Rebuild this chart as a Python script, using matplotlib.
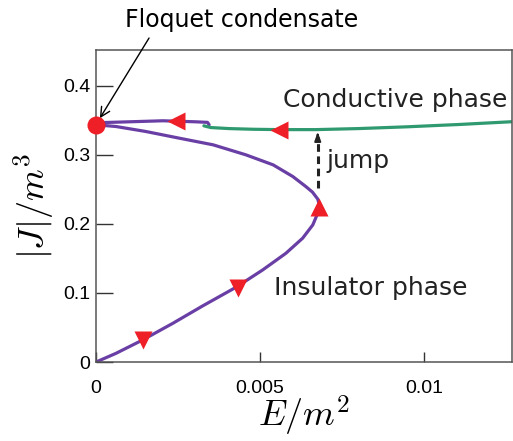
import numpy as np
import matplotlib
matplotlib.use("Agg")
import matplotlib.pyplot as plt

plt.rcParams['mathtext.fontset'] = 'cm'

# insulator branch: from origin to the turning point and back to the condensate
E_ins = [0, 0.00061, 0.00142, 0.00234, 0.00325, 0.00427, 0.00508, 0.00579, 0.0063,
         0.00661, 0.00676, 0.00682, 0.00676, 0.0066, 0.0064, 0.006, 0.0054,
         0.00457, 0.00357, 0.00253, 0.00152, 0.00061, 0]
J_ins = [0, 0.0126, 0.0319, 0.056, 0.0812, 0.1083, 0.1333, 0.1575, 0.1793,
         0.1986, 0.2155, 0.226, 0.236, 0.246, 0.254, 0.2686, 0.2855,
         0.300, 0.3145, 0.3242, 0.3338, 0.341, 0.3435]

# short upper purple piece
E_up = [0, 0.001, 0.00204, 0.00305, 0.0034, 0.00345]
J_up = [0.3464, 0.3478, 0.3493, 0.3478, 0.347, 0.3435]

# conductive branch
E_cond = [0.00329, 0.0035, 0.00405, 0.0048, 0.00558, 0.0067, 0.008, 0.0095, 0.0111, 0.0127]
J_cond = [0.342, 0.3395, 0.338, 0.337, 0.3365, 0.3365, 0.338, 0.3406, 0.344, 0.348]

# direction arrows along the curves
arr_down = ([0.00142, 0.00432], [0.032, 0.107])
arr_up = ([0.00679], [0.225])
arr_left = ([0.00244, 0.00557], [0.3495, 0.3365])

condensate = (0, 0.3435)
jump_E = 0.00676
jump_J = (0.2517, 0.3372)

purple = '#6a3fa5'
green = '#2f9a6f'
red = '#ee1f26'

fig = plt.figure(figsize=(5.13, 4.41), dpi=100)
ax = fig.add_axes([0.187, 0.179, 0.811, 0.708])

line_kw = dict(lw=2.3, solid_capstyle='round', solid_joinstyle='round', zorder=2)
ax.plot(E_ins, J_ins, color=purple, **line_kw)
ax.plot(E_up, J_up, color=purple, **line_kw)
ax.plot(E_cond, J_cond, color=green, **line_kw)

ax.plot(*arr_down, 'v', color=red, ms=13, mec='none', zorder=3)
ax.plot(*arr_up, '^', color=red, ms=13, mec='none', zorder=3)
ax.plot(*arr_left, '<', color=red, ms=13, mec='none', zorder=3)
ax.plot(*condensate, 'o', color=red, ms=13, mec='none', zorder=4, clip_on=False)

# jump arrow
ax.plot([jump_E, jump_E], [jump_J[0], jump_J[1] - 0.012], ls=(0, (2.5, 1.5)),
        color='#222222', lw=2.2, zorder=2)
ax.annotate('', xy=(jump_E, jump_J[1]), xytext=(jump_E, jump_J[1] - 0.015),
            arrowprops=dict(arrowstyle='-|>,head_width=0.18,head_length=0.5',
                            color='#222222', lw=1.5))

ax.annotate('Floquet condensate', xy=(0.00012, 0.353), xytext=(0.000884, 0.4855),
            fontsize=17, ha='left', va='baseline', annotation_clip=False,
            arrowprops=dict(arrowstyle='->', color='black', lw=1,
                            relpos=(0.12, 0.0), shrinkA=3, shrinkB=0))
ax.text(0.0057, 0.3696, 'Conductive phase', fontsize=18, color='#222222')
ax.text(0.00704, 0.281, 'jump', fontsize=18, color='#222222')
ax.text(0.00543, 0.097, 'Insulator phase', fontsize=18, color='#222222')

ax.set_xlim(0, 0.01268)
ax.set_ylim(0, 0.452)
ax.set_xticks([0, 0.005, 0.01])
ax.set_xticklabels(['0', '0.005', '0.01'])
ax.set_yticks([0, 0.1, 0.2, 0.3, 0.4])
ax.set_yticklabels(['0', '0.1', '0.2', '0.3', '0.4'])
ax.tick_params(axis='x', direction='in', length=7, width=1, pad=13,
               labelsize=14, colors='#333333')
ax.tick_params(axis='y', direction='in', length=12, width=1, pad=4,
               labelsize=14, colors='#333333')
for lab in ax.get_xticklabels() + ax.get_yticklabels():
    lab.set_fontfamily('Liberation Sans')
    lab.set_color('black')
for sp in ax.spines.values():
    sp.set_color('#555555')
    sp.set_linewidth(1.1)

ax.set_xlabel('$E/m^2$', fontsize=26, labelpad=-2)
ax.set_ylabel('$|J|/m^3$', fontsize=26, labelpad=5)

fig.savefig('out.png', dpi=100)
